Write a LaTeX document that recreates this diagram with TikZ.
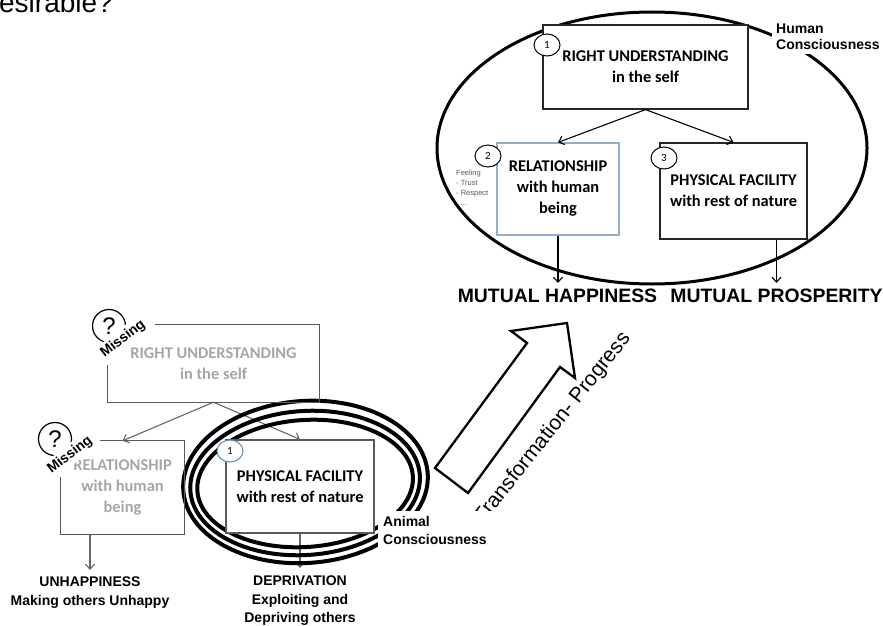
\documentclass[tikz,border=0pt]{standalone}
\usepackage{fontspec}
\setmainfont{Liberation Sans}
\newfontfamily\carl{Carlito}
\usetikzlibrary{shapes.geometric,arrows.meta}
\definecolor{bordgray}{HTML}{595959}
\definecolor{txtgray}{HTML}{A6A6A6}
\definecolor{arrgray}{HTML}{666666}
\definecolor{steelb}{HTML}{8EB0CC}
\definecolor{numblue}{HTML}{5A8AB5}
\pgfdeclarelayer{bg}
\pgfsetlayers{bg,main}
\begin{document}
\begin{tikzpicture}[x=1pt,y=-1pt,
  boxtext/.style={font=\carl\bfseries\fontsize{16.4}{21}\selectfont, align=center},
  topbox/.style={boxtext, draw=black!85, line width=1.2pt, fill=white, inner sep=0pt},
  graytext/.style={boxtext, text=txtgray, inner sep=0pt},
  grayborder/.style={draw=bordgray, line width=1.3pt},
  numc/.style={ellipse, draw=black, line width=1pt, fill=white, minimum width=26pt, minimum height=22pt, inner sep=0pt, font=\carl\fontsize{11}{11}\selectfont},
  arr/.style={-{Straight Barb[length=5pt,width=9pt]}, line width=1.1pt},
  garr/.style={arr, draw=arrgray},
  lbl/.style={font=\bfseries\fontsize{14}{17}\selectfont, align=left, fill=white, inner sep=5pt},
  big/.style={font=\bfseries\fontsize{19.4}{22}\selectfont, inner sep=6pt},
  result/.style={font=\bfseries\fontsize{14}{19}\selectfont, align=center},
  qcirc/.style={circle, draw=black, line width=1.2pt, minimum size=33pt, inner sep=0pt, font=\fontsize{24}{24}\selectfont},
  missing/.style={rotate=38, fill=white, font=\bfseries\fontsize{14}{14}\selectfont, inner sep=3pt},
  ring/.style={line width=4pt}
]
\useasboundingbox (0,0) rectangle (883,626);

% title fragment
\begin{scope}
\clip (0,0) rectangle (883,626);
\node[anchor=base east, inner sep=0pt, font=\fontsize{28}{28}\selectfont] (title) at (113,13) {esirable?};
\end{scope}

% ---------- Human consciousness ----------
\draw[line width=3pt] (652,148) ellipse [x radius=215, y radius=136];
\node[topbox, minimum width=205pt, minimum height=84pt] (ru) at (645.5,67) {RIGHT UNDERSTANDING\\in the self};
\node[topbox, draw=steelb, minimum width=122pt, minimum height=92pt] (rel) at (558,189) {RELATIONSHIP\\with human\\being};
\node[topbox, minimum width=147pt, minimum height=96pt] (pf) at (733.5,191) {PHYSICAL FACILITY\\with rest of nature};
\node[numc] (n1) at (547,45) {1};
\node[numc] (n2) at (488,156) {2};
\node[numc] (n3) at (664,158) {3};
\draw[arr] (ru.south) -- (rel.north);
\draw[arr] (ru.south) -- (pf.north);
\node[lbl, anchor=north west, inner sep=4pt, font=\bfseries\fontsize{14}{16}\selectfont] (hc) at (772,20) {Human\\Consciousness};
\node[anchor=north west, inner sep=0pt, align=left, text=black!65, font=\fontsize{7.5}{10}\selectfont] (feel) at (456,170) {Feeling\\- Trust\\- Respect\\\ \ ...};
\node[big, anchor=north] (mh) at (557.5,283) {MUTUAL HAPPINESS};
\node[big, anchor=north] (mp) at (776.5,283) {MUTUAL PROSPERITY};
\draw[arr] (rel.south) -- (rel.south |- mh.north);
\draw[arr] (pf.south -| mp.north) -- (mp.north);

% ---------- transformation arrow ----------
\draw[line width=2.3pt, fill=white, line join=miter] (435,468) -- (527,343) -- (511,331) -- (567,323) -- (575,378) -- (560,367) -- (468,493) -- cycle;
\node[rotate=51.5, anchor=base, inner sep=0pt, font=\fontsize{21}{21}\selectfont] (tp) at (557,431.5) {Transformation- Progress};

% ---------- Animal consciousness ----------
\node[graytext, minimum width=211pt, minimum height=77pt] (ru2) at (213.5,363.5) {RIGHT UNDERSTANDING\\in the self};
\draw[grayborder] ([xshift=47pt]ru2.north west) -- (ru2.north east) -- (ru2.south east) -- (ru2.south west) -- ([yshift=-40pt]ru2.north west);
\node[graytext, minimum width=123pt, minimum height=93pt] (rel2) at (122.5,487.5) {RELATIONSHIP\\with human\\being};
\draw[grayborder] ([xshift=39pt]rel2.north west) -- (rel2.north east) -- (rel2.south east) -- (rel2.south west) -- ([yshift=-36pt]rel2.north west);
\node[boxtext, grayborder, fill=white, minimum width=148pt, minimum height=93pt, inner sep=0pt] (pf2) at (300,486.5) {PHYSICAL FACILITY\\with rest of nature};
\node[numc, draw=numblue] (n1b) at (230,451) {1};

\node[qcirc] (q1) at (109,326) {?};
\node[missing] (m1) at (123,339) {Missing};
\node[qcirc] (q2) at (55,439) {?};
\node[missing] (m2) at (70,455) {Missing};

\node[result, anchor=north, inner sep=7pt] (un) at (90,570) {UNHAPPINESS\\Making others Unhappy};
\node[result, anchor=north, inner sep=8pt, font=\bfseries\fontsize{14}{18.5}\selectfont] (dep) at (300,568) {DEPRIVATION\\Exploiting and\\Depriving others};

\begin{pgfonlayer}{bg}
\draw[garr] (ru2.south) -- (rel2.north);
\draw[garr] (ru2.south) -- (pf2.north);
\draw[garr] (rel2.south -| un.north) -- (un.north);
\draw[garr] (pf2.south) -- (dep.north);
\begin{scope}[rotate around={4:(305,482)}]
\draw[ring] (305.5,482) ellipse [x radius=122.5, y radius=81];
\draw[ring] (305,483) ellipse [x radius=115, y radius=72];
\draw[ring] (305,483.5) ellipse [x radius=108, y radius=63.5];
\end{scope}
\end{pgfonlayer}

\node[lbl, anchor=north west, text width=122pt, font=\bfseries\fontsize{14}{18}\selectfont] (ac) at (378,511) {Animal\\Consciousness};
\end{tikzpicture}
\end{document}
